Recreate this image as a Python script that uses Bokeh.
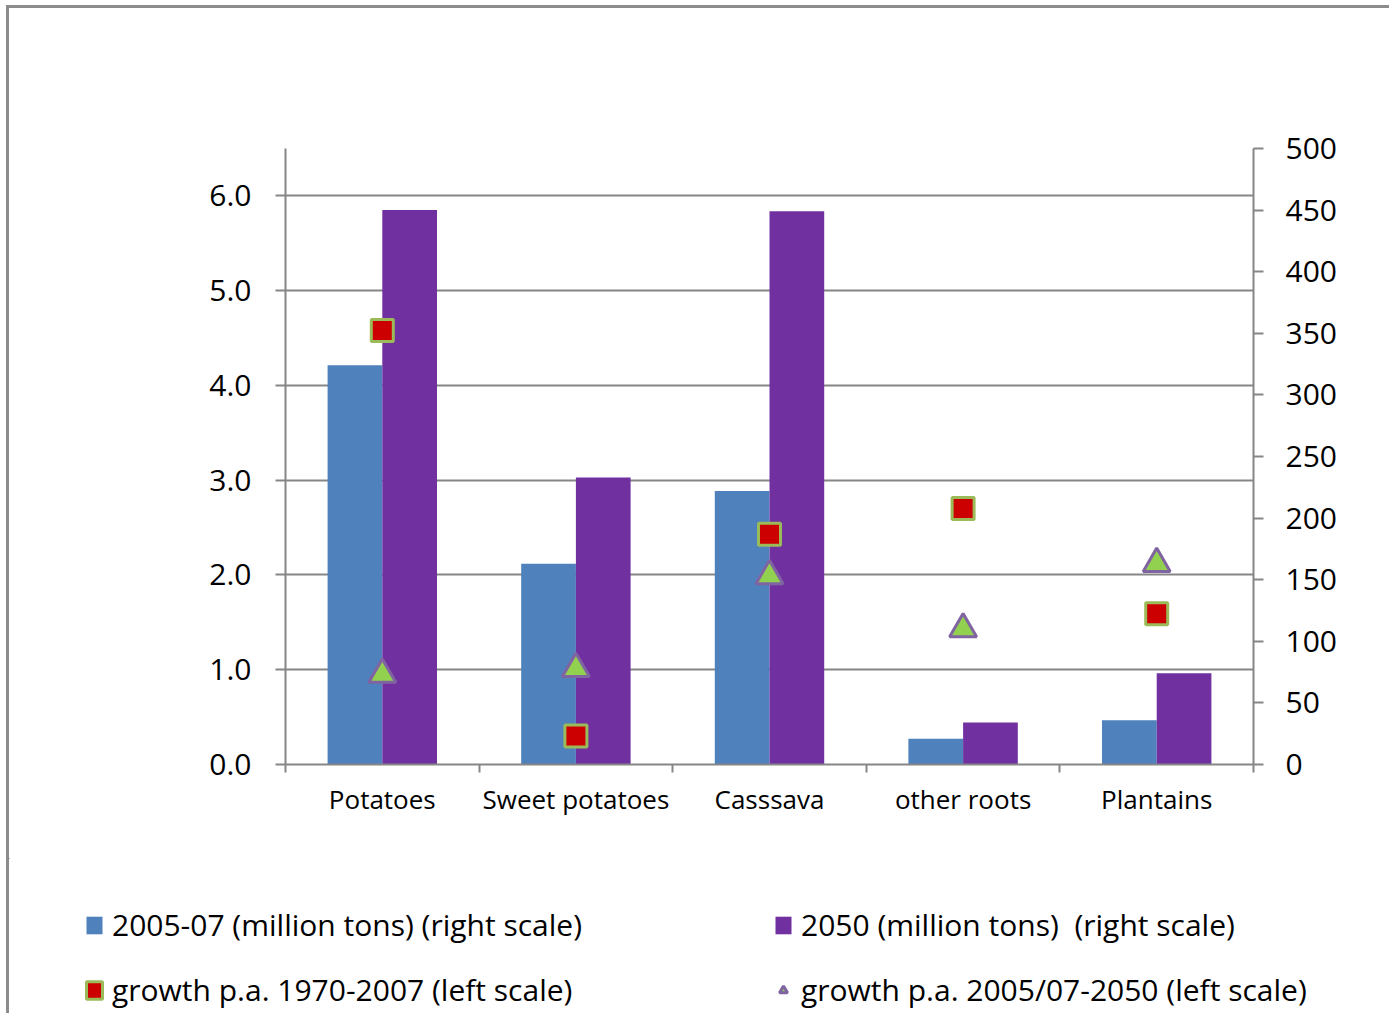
from bokeh.plotting import figure
from bokeh.models import (Range1d, LinearAxis, FixedTicker,
                          Legend, LegendItem, ColumnDataSource, PrintfTickFormatter, Grid)
from bokeh.transform import dodge
from bokeh.embed import file_html
from bokeh.resources import INLINE

# ---------------- data ----------------
categories = ["Potatoes", "Sweet potatoes", "Casssava", "other roots", "Plantains"]
prod_2005_07 = [324, 163, 222, 21, 36]          # million tons (right scale)
prod_2050 = [450, 233, 449, 34, 74]             # million tons (right scale)
growth_1970_2007 = [4.58, 0.30, 2.43, 2.70, 1.59]   # % p.a. (left scale)
growth_2005_2050 = [0.95, 1.01, 1.99, 1.43, 2.12]   # % p.a. (left scale)
left_ticks = [0, 1, 2, 3, 4, 5, 6]
right_ticks = [0, 50, 100, 150, 200, 250, 300, 350, 400, 450, 500]

labels = ["2005-07 (million tons) (right scale)",
          "2050 (million tons)  (right scale)",
          "growth p.a. 1970-2007 (left scale)",
          "growth p.a. 2005/07-2050 (left scale)"]

n = len(categories)
centers = [i + 0.5 for i in range(n)]        # category slot centres
boundaries = [i for i in range(n + 1)]       # category slot boundaries

# ---------------- style ----------------
FONT = "Open Sans"
AX = "#868686"
BLUE = "#4f81bd"
PURPLE = "#7030a0"
SQ_FILL, SQ_LINE = "#cc0000", "#9bbb59"
TRI_FILL, TRI_LINE = "#92d050", "#8064a2"
FRAME_LINE = "3px solid #8c8c8c"

W, H = 1380, 850
p = figure(width=W, height=H, frame_width=968, frame_height=616,
           x_range=Range1d(0, n), y_range=Range1d(0, 6.5),
           output_backend="svg", toolbar_location=None,
           x_axis_location=None, y_axis_location=None,
           min_border_left=276, min_border_right=136,
           min_border_top=140, min_border_bottom=94)
p.center = [r for r in p.center if not isinstance(r, Grid)]
p.outline_line_color = None
p.background_fill_color = "white"
p.border_fill_color = "white"
p.styles = {"margin-left": "6px", "margin-top": "5px",
            "border-left": FRAME_LINE, "border-top": FRAME_LINE}

p.extra_y_ranges = {"tons": Range1d(0, 500)}

# axes
yl = LinearAxis(ticker=FixedTicker(ticks=left_ticks),
                formatter=PrintfTickFormatter(format="%.1f"),
                axis_line_color=AX, axis_line_width=2,
                major_tick_line_color=AX, major_tick_line_width=2,
                major_tick_in=0, major_tick_out=10,
                minor_tick_line_color=None,
                major_label_text_font=FONT, major_label_text_font_size="30px",
                major_label_text_color="black", major_label_standoff=24)
p.add_layout(yl, "left")

yr = LinearAxis(y_range_name="tons", ticker=FixedTicker(ticks=right_ticks),
                axis_line_color=AX, axis_line_width=2,
                major_tick_line_color=AX, major_tick_line_width=2,
                major_tick_in=0, major_tick_out=10,
                minor_tick_line_color=None,
                major_label_text_font=FONT, major_label_text_font_size="30px",
                major_label_text_color="black", major_label_standoff=22)
p.add_layout(yr, "right")

xb = LinearAxis(ticker=FixedTicker(ticks=boundaries),
                major_label_overrides={t: "" for t in boundaries},
                major_label_text_font_size="1px", major_label_standoff=0,
                axis_line_color=AX, axis_line_width=2,
                major_tick_line_color=AX, major_tick_line_width=2,
                major_tick_in=0, major_tick_out=8,
                minor_tick_line_color=None)
p.add_layout(xb, "below")

xc = LinearAxis(ticker=FixedTicker(ticks=centers),
                major_label_overrides={c: name for c, name in zip(centers, categories)},
                axis_line_color=None, major_tick_line_color=None,
                minor_tick_line_color=None,
                major_label_text_font=FONT, major_label_text_font_size="26px",
                major_label_text_color="black", major_label_standoff=2)
p.add_layout(xc, "below")

p.add_layout(Grid(dimension=1, ticker=FixedTicker(ticks=left_ticks),
                  grid_line_color=AX, grid_line_width=2))

# ---------------- glyphs ----------------
src = ColumnDataSource(dict(x=centers, cat=categories, a=prod_2005_07, b=prod_2050,
                            g1=growth_1970_2007, g2=growth_2005_2050))
bw = 0.2826
p.vbar(x=dodge("x", -bw / 2), top="a", width=bw, source=src,
       y_range_name="tons", fill_color=BLUE, line_color=None)
p.vbar(x=dodge("x", bw / 2), top="b", width=bw, source=src,
       y_range_name="tons", fill_color=PURPLE, line_color=None)
p.scatter(x="x", y="g2", marker="triangle", size=27, source=src,
          fill_color=TRI_FILL, line_color=TRI_LINE, line_width=3)
p.rect(x="x", y="g1", width=22, height=22, width_units="screen",
       height_units="screen", source=src,
       fill_color=SQ_FILL, line_color=SQ_LINE, line_width=3)

# ---------------- legend strip (separate root below the chart) ----------------
p2 = figure(width=W, height=155, x_range=Range1d(1000, 1001), y_range=Range1d(-1001, -1000),
            output_backend="svg", toolbar_location=None,
            x_axis_location=None, y_axis_location=None,
            min_border=0, min_border_left=0, min_border_right=0,
            min_border_top=0, min_border_bottom=0)
p2.center = [r for r in p2.center if not isinstance(r, Grid)]
p2.outline_line_color = None
p2.background_fill_color = "white"
p2.border_fill_color = "white"
p2.styles = {"margin-left": "6px", "border-left": FRAME_LINE}

l1 = p2.vbar(x=dodge("x", -bw / 2), top="a", width=bw, source=src,
             fill_color=BLUE, line_color=None)
l2 = p2.vbar(x=dodge("x", bw / 2), top="b", width=bw, source=src,
             fill_color=PURPLE, line_color=None)
l4 = p2.scatter(x="x", y="g2", marker="triangle", size=27, source=src,
                fill_color=TRI_FILL, line_color=TRI_LINE, line_width=3)
l3 = p2.rect(x="x", y="g1", width=22, height=22, width_units="screen",
             height_units="screen", source=src,
             fill_color=SQ_FILL, line_color=SQ_LINE, line_width=3)

legend = Legend(items=[LegendItem(label=labels[0], renderers=[l1]),
                       LegendItem(label=labels[2], renderers=[l3]),
                       LegendItem(label=labels[1], renderers=[l2]),
                       LegendItem(label=labels[3], renderers=[l4])],
                orientation="vertical", ncols=2, location=(75, 3),
                label_text_font=FONT, label_text_font_size="30px",
                label_text_color="black",
                glyph_width=20, glyph_height=22, label_height=22, label_width=637,
                label_standoff=8, spacing=24, padding=0, margin=0,
                border_line_color=None, background_fill_alpha=0)
p2.add_layout(legend)

open("out.html", "w").write(file_html((p, p2), INLINE))
